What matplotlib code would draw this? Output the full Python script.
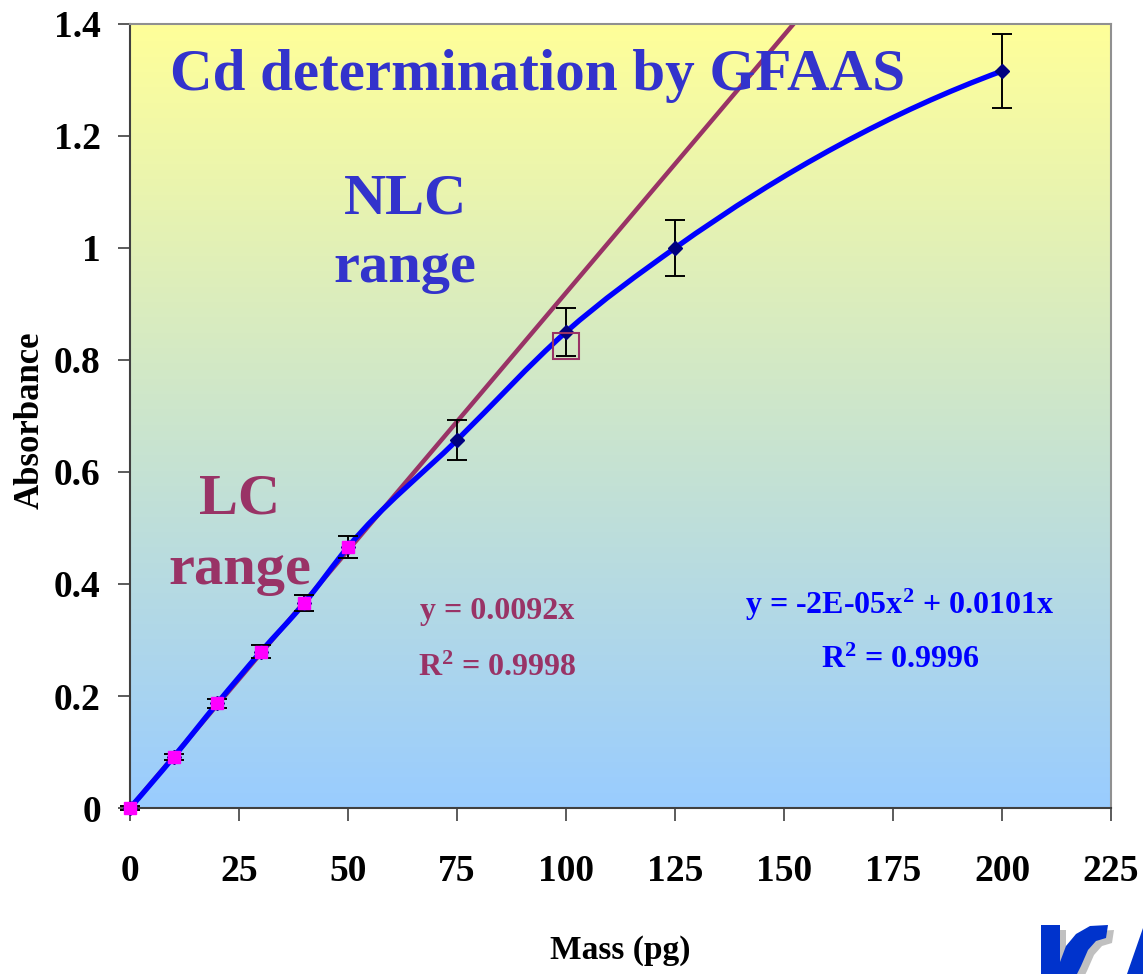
import numpy as np
import matplotlib
matplotlib.use("Agg")
import matplotlib.pyplot as plt
from matplotlib.path import Path
from matplotlib.patches import PathPatch, Polygon
from matplotlib.colors import LinearSegmentedColormap

# data
mass = [0, 10, 20, 30, 40, 50, 75, 100, 125, 200]
absorb = [0, 0.091, 0.187, 0.279, 0.366, 0.466, 0.657, 0.85, 1.0, 1.316]
err = [0.003, 0.005, 0.008, 0.012, 0.015, 0.02, 0.035, 0.043, 0.05, 0.066]
lc_mass = [0, 10, 20, 30, 40, 50]
lc_abs = [0, 0.091, 0.187, 0.279, 0.366, 0.466]
lin_slope = 0.0092
box_pt = (100, 0.825)
x_ticks = [0, 25, 50, 75, 100, 125, 150, 175, 200, 225]
y_ticks = [0, 0.2, 0.4, 0.6, 0.8, 1.0, 1.2, 1.4]
y_labels = ["0", "0.2", "0.4", "0.6", "0.8", "1", "1.2", "1.4"]

plt.rcParams["font.family"] = ["Liberation Serif", "DejaVu Serif"]
plt.rcParams["font.weight"] = "bold"
plt.rcParams["mathtext.fontset"] = "custom"
plt.rcParams["mathtext.rm"] = "Liberation Serif:bold"
plt.rcParams["mathtext.it"] = "Liberation Serif:bold"
plt.rcParams["mathtext.bf"] = "Liberation Serif:bold"
plt.rcParams["mathtext.default"] = "rm"

W, H = 1143, 974
fig = plt.figure(figsize=(W / 100, H / 100), dpi=100)
ax = fig.add_axes([130 / W, 1 - 808 / H, (1111 - 130) / W, (808 - 24) / H])
ax.set_xlim(0, 225)
ax.set_ylim(0, 1.4)

# background gradient yellow -> light blue
cmap = LinearSegmentedColormap.from_list("bg", ["#99ccff", "#ffff99"])
grad = np.linspace(0, 1, 256).reshape(-1, 1)
ax.imshow(grad, cmap=cmap, extent=[0, 225, 0, 1.4], origin="lower",
          aspect="auto", zorder=0)

# linear calibration trendline
xl = np.array([0, 225])
ax.plot(xl, lin_slope * xl, color="#993366", lw=3.2, zorder=2)

# smoothed line through the points (cubic Hermite segments as Bezier curves)
xs = np.array(mass, float)
ys = np.array(absorb, float)
n = len(xs)
h = np.diff(xs)
d = np.diff(ys) / h
m = np.empty(n)
m[1:-1] = (h[:-1] * d[1:] + h[1:] * d[:-1]) / (h[:-1] + h[1:])
m[0] = 2 * d[0] - m[1]
m[-1] = 2 * d[-1] - m[-2]
verts = [(xs[0], ys[0])]
codes = [Path.MOVETO]
for i in range(n - 1):
    dx = h[i]
    verts += [(xs[i] + dx / 3, ys[i] + m[i] * dx / 3),
              (xs[i + 1] - dx / 3, ys[i + 1] - m[i + 1] * dx / 3),
              (xs[i + 1], ys[i + 1])]
    codes += [Path.CURVE4] * 3
ax.add_patch(PathPatch(Path(verts, codes), fill=False, edgecolor="#0000ff",
                       lw=3.8, zorder=3, capstyle="round", joinstyle="round"))

ax.errorbar(mass, absorb, yerr=err, fmt="D", color="#000080", ms=7,
            ecolor="black", elinewidth=1.4, capsize=7, capthick=1.4, zorder=4,
            clip_on=False)
ax.plot(lc_mass, lc_abs, "s", color="#ff00ff", ms=8, zorder=5, clip_on=False)
ax.plot(*box_pt, "s", ms=19, mfc="none", mec="#993366", mew=1.5, zorder=5)

ax.set_xticks(x_ticks)
ax.set_yticks(y_ticks)
ax.set_yticklabels(y_labels)
ax.tick_params(direction="out", length=9, width=1.2, color="#404040",
               labelsize=27)
ax.tick_params(axis="x", pad=24)
ax.tick_params(axis="y", pad=12)
for s in ["top", "right"]:
    ax.spines[s].set_color("#909090")
for s in ["left", "bottom"]:
    ax.spines[s].set_color("#404040")
for s in ax.spines.values():
    s.set_linewidth(1.5)

fig.text(30 / W, 1 - 420 / H, "Absorbance", rotation=90, ha="center",
         va="center", fontsize=25, fontweight="bold")
fig.text(620 / W, 1 - 950 / H, "Mass (pg)", ha="center", va="center",
         fontsize=24, fontweight="bold")

tf = fig.transFigure
ax.text(170 / W, 1 - 76 / H, "Cd determination by GFAAS", transform=tf,
        ha="left", va="center", fontsize=42.5, color="#3333cc")
ax.text(405 / W, 1 - 200 / H, "NLC", transform=tf, ha="center",
        va="center", fontsize=42, color="#3333cc")
ax.text(405 / W, 1 - 268 / H, "range", transform=tf, ha="center",
        va="center", fontsize=42, color="#3333cc")
ax.text(240 / W, 1 - 500 / H, "LC", transform=tf, ha="center",
        va="center", fontsize=42, color="#993366")
ax.text(240 / W, 1 - 570 / H, "range", transform=tf, ha="center",
        va="center", fontsize=42, color="#993366")

ax.text(497 / W, 1 - 612 / H, "y = 0.0092x", transform=tf,
        ha="center", va="center", fontsize=23, color="#993366")
ax.text(497 / W, 1 - 668 / H, r"R$^{2}$ = 0.9998", transform=tf,
        ha="center", va="center", fontsize=23, color="#993366")
ax.text(900 / W, 1 - 605 / H, r"y = -2E-05x$^{2}$ + 0.0101x", transform=tf,
        ha="center", va="center", fontsize=23, color="#0000ff")
ax.text(900 / W, 1 - 660 / H, r"R$^{2}$ = 0.9996", transform=tf,
        ha="center", va="center", fontsize=23, color="#0000ff")

# logo fragment in the lower right corner
logo = [(1041, 925), (1060, 925), (1060, 962), (1066, 946), (1076, 934),
        (1090, 926), (1108, 925), (1106, 938), (1096, 941), (1088, 950),
        (1081, 966), (1077, 974), (1041, 974)]
shadow = [(x + 6, y + 5) for x, y in logo]
slash = [(1127, 974), (1143, 928), (1143, 974)]
for poly, col in [(shadow, "#c0c0c0"), (logo, "#0033cc"), (slash, "#0033cc")]:
    fig.patches.append(Polygon([(x / W, 1 - y / H) for x, y in poly], closed=True,
                               transform=tf, facecolor=col, edgecolor="none"))

fig.savefig("out.png", dpi=100)
